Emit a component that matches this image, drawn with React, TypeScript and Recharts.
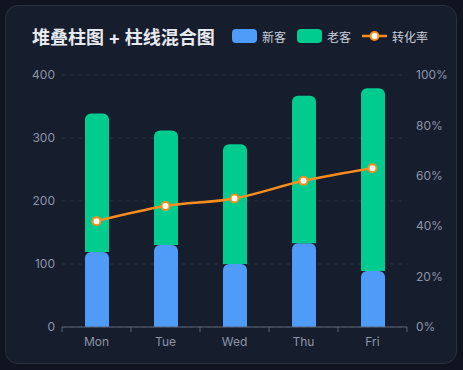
import React from 'react';
import { ComposedChart, Bar, Line, XAxis, YAxis, CartesianGrid } from 'recharts';

const days = ['Mon', 'Tue', 'Wed', 'Thu', 'Fri'];
const newCustomers = [119, 130, 100, 133, 89];
const oldCustomers = [220, 182, 190, 234, 290];
const conversionRate = [0.42, 0.48, 0.51, 0.58, 0.63];
const leftTicks = [0, 100, 200, 300, 400];
const rightTicks = [0, 0.2, 0.4, 0.6, 0.8, 1];

const data = days.map((d, i) => ({
  day: d,
  newC: newCustomers[i],
  oldC: oldCustomers[i],
  rate: conversionRate[i],
}));

const BLUE = '#4f9cf8';
const GREEN = '#00cc8f';
const ORANGE = '#fb8c1e';
const AXIS = '#5d6677';
const TICK_TEXT = '#8c96a8';
const FONT = "Inter, 'Noto Sans CJK SC', sans-serif";

const XTick = (props: any) => {
  const { x, y, payload, index, visibleTicksCount } = props;
  const half = payload && payload.offset ? payload.offset : 34.5;
  const last = index === visibleTicksCount - 1;
  return (
    <g>
      <line x1={x - half} x2={x - half} y1={y} y2={y + 5} stroke={AXIS} strokeWidth={1} />
      {last && <line x1={x + half} x2={x + half} y1={y} y2={y + 5} stroke={AXIS} strokeWidth={1} />}
      <text x={x} y={y + 19} textAnchor="middle" fill={TICK_TEXT} fontSize={12} fontFamily={FONT}>
        {payload.value}
      </text>
    </g>
  );
};

const LegendItem = ({ kind, color, label }: { kind: 'rect' | 'line'; color: string; label: string }) => (
  <div style={{ display: 'flex', alignItems: 'center', marginRight: 11 }}>
    {kind === 'rect' ? (
      <div style={{ width: 25, height: 14, borderRadius: 4, background: color }} />
    ) : (
      <svg width={25} height={14}>
        <line x1={0} x2={25} y1={7} y2={7} stroke={color} strokeWidth={2.5} />
        <circle cx={12.5} cy={7} r={4} fill="#fff" stroke={color} strokeWidth={2} />
      </svg>
    )}
    <span style={{ marginLeft: 5, fontSize: 12, color: '#c8d0dc', fontFamily: FONT }}>{label}</span>
  </div>
);

export default function App() {
  return (
    <div style={{ position: 'absolute', left: 0, top: 0, width: 463, height: 370, background: '#0f1420', overflow: 'hidden' }}>
      <div
        style={{
          position: 'absolute',
          left: 5,
          top: 5,
          width: 450,
          height: 357,
          borderRadius: 13,
          border: '1px solid #283041',
          background: '#161d2d',
        }}
      />
      <div
        style={{
          position: 'absolute',
          left: 32,
          top: 25,
          fontSize: 18,
          fontWeight: 700,
          color: '#e6e9ef',
          fontFamily: FONT,
          lineHeight: '26px',
          whiteSpace: 'nowrap',
        }}
      >
        堆叠柱图 + 柱线混合图
      </div>
      <div style={{ position: 'absolute', left: 232, top: 26, height: 20, display: 'flex', alignItems: 'center' }}>
        <LegendItem kind="rect" color={BLUE} label="新客" />
        <LegendItem kind="rect" color={GREEN} label="老客" />
        <LegendItem kind="line" color={ORANGE} label="转化率" />
      </div>
      <div style={{ position: 'absolute', left: 0, top: 0 }}>
        <ComposedChart width={463} height={370} data={data} margin={{ top: 75, right: 11, bottom: 18, left: 22 }}>
          <CartesianGrid vertical={false} stroke="#2b3445" strokeDasharray="4 4" yAxisId="left" />
          <XAxis
            dataKey="day"
            height={25}
            axisLine={{ stroke: AXIS }}
            tickLine={false}
            tickSize={0}
            tickMargin={0}
            tick={<XTick />}
            interval={0}
          />
          <YAxis
            yAxisId="left"
            domain={[0, 400]}
            ticks={leftTicks}
            width={40}
            axisLine={false}
            tickLine={false}
            tickSize={0}
            tickMargin={7}
            tick={{ fill: TICK_TEXT, fontSize: 12, fontFamily: FONT }}
          />
          <YAxis
            yAxisId="right"
            orientation="right"
            domain={[0, 1]}
            ticks={rightTicks}
            width={45}
            axisLine={false}
            tickLine={false}
            tickSize={0}
            tickMargin={9}
            tickFormatter={(v: number) => `${Math.round(v * 100)}%`}
            tick={{ fill: TICK_TEXT, fontSize: 12, fontFamily: FONT }}
          />
          <Bar yAxisId="left" dataKey="newC" stackId="a" fill={BLUE} barSize={24} radius={[6, 6, 0, 0]} isAnimationActive={false} />
          <Bar yAxisId="left" dataKey="oldC" stackId="a" fill={GREEN} barSize={24} radius={[6, 6, 0, 0]} isAnimationActive={false} />
          <Line
            yAxisId="right"
            type="monotone"
            dataKey="rate"
            stroke={ORANGE}
            strokeWidth={2.5}
            dot={{ r: 4, fill: '#ffffff', stroke: ORANGE, strokeWidth: 2 }}
            activeDot={false}
            isAnimationActive={false}
          />
        </ComposedChart>
      </div>
    </div>
  );
}
